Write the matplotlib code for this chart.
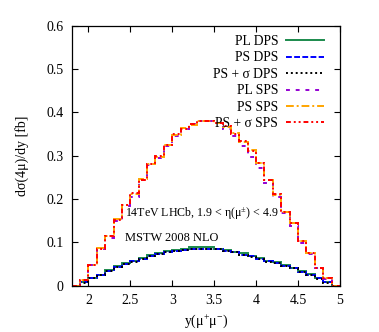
import matplotlib
matplotlib.use("Agg")
import matplotlib.pyplot as plt
import numpy as np

plt.rcParams['font.family'] = ['Liberation Serif', 'DejaVu Serif']
plt.rcParams['mathtext.fontset'] = 'custom'
plt.rcParams['mathtext.rm'] = 'Liberation Serif'
plt.rcParams['mathtext.default'] = 'regular'

# bin edges, 0.1 wide, 1.8 .. 5.0
edges = np.round(np.arange(1.8, 5.01, 0.1), 2)

# SPS histograms
ps_sps = [0.0, 0.014, 0.048, 0.087, 0.115, 0.153, 0.187, 0.212, 0.246, 0.282,
          0.298, 0.325, 0.348, 0.363, 0.371, 0.381, 0.380, 0.376, 0.367, 0.352,
          0.332, 0.313, 0.283, 0.245, 0.210, 0.171, 0.144, 0.104, 0.075, 0.042,
          0.018, 0.0]
pss_sps = [0.0, 0.013, 0.048, 0.086, 0.116, 0.152, 0.186, 0.213, 0.245, 0.281,
           0.299, 0.324, 0.349, 0.362, 0.372, 0.380, 0.381, 0.375, 0.368, 0.351,
           0.333, 0.312, 0.284, 0.244, 0.211, 0.170, 0.145, 0.103, 0.076, 0.041,
           0.019, 0.0]
pl_sps = [0.0, 0.014, 0.047, 0.086, 0.111, 0.150, 0.183, 0.205, 0.243, 0.279,
          0.295, 0.322, 0.346, 0.362, 0.372, 0.380, 0.381, 0.375, 0.362, 0.345,
          0.323, 0.296, 0.272, 0.236, 0.205, 0.168, 0.139, 0.098, 0.073, 0.041,
          0.015, 0.0]

# DPS histograms
ps_dps = [0.0, 0.008, 0.018, 0.025, 0.035, 0.044, 0.050, 0.057, 0.063, 0.069,
          0.074, 0.079, 0.081, 0.083, 0.084, 0.085, 0.085, 0.084, 0.081, 0.077,
          0.072, 0.068, 0.062, 0.057, 0.052, 0.046, 0.040, 0.033, 0.024, 0.017,
          0.008, 0.0]
pss_dps = [0.0, 0.007, 0.017, 0.025, 0.034, 0.044, 0.051, 0.056, 0.063, 0.068,
           0.074, 0.078, 0.081, 0.083, 0.085, 0.085, 0.084, 0.084, 0.081, 0.078,
           0.072, 0.067, 0.062, 0.056, 0.052, 0.045, 0.040, 0.032, 0.024, 0.016,
           0.007, 0.0]
pl_dps = [0.0, 0.009, 0.019, 0.026, 0.036, 0.046, 0.053, 0.058, 0.065, 0.070,
          0.076, 0.080, 0.082, 0.084, 0.089, 0.090, 0.090, 0.085, 0.082, 0.079,
          0.076, 0.069, 0.064, 0.058, 0.055, 0.047, 0.041, 0.035, 0.027, 0.019,
          0.009, 0.0]

fig = plt.figure(figsize=(3.79, 3.32), dpi=100)
ax = fig.add_axes([0.189, 0.139, 0.708, 0.784])

series = [
    (pl_dps, "PL DPS", "#1b8a4c", "-"),
    (ps_dps, "PS DPS", "#0000ff", (0, (3, 1.2))),
    (pss_dps, "PS + σ DPS", "#000000", (0, (1, 1.5))),
    (pl_sps, "PL SPS", "#9400d3", (0, (2, 3))),
    (ps_sps, "PS SPS", "#ffa500", (0, (4, 1.5, 1, 1.5))),
    (pss_sps, "PS + σ SPS", "#ff0000", (0, (2.5, 1.5, 1, 1.5, 1, 1.5))),
]
for vals, lab, col, ls in series:
    ax.stairs(vals, edges, baseline=None, color=col, linestyle=ls, lw=1.4, label=lab)

ax.set_xlim(1.8, 5)
ax.set_ylim(0, 0.6)
ax.set_xticks([2, 2.5, 3, 3.5, 4, 4.5, 5])
ax.set_xticklabels(["2", "2.5", "3", "3.5", "4", "4.5", "5"])
ax.set_yticks([0, 0.1, 0.2, 0.3, 0.4, 0.5, 0.6])
ax.set_yticklabels(["0", "0.1", "0.2", "0.3", "0.4", "0.5", "0.6"])
ax.tick_params(direction="in", top=True, right=True, length=4, width=0.8,
               labelsize=10, pad=6)
for s in ax.spines.values():
    s.set_linewidth(0.9)

ax.set_xlabel("y(μ$^{+}$μ$^{-}$)", fontsize=10, labelpad=4)
ax.set_ylabel("dσ(4μ)/dy [fb]", fontsize=10, labelpad=12)

ax.text(2.44, 0.166, "14TeV LHCb, 1.9 < η(μ$^{\\pm}$) < 4.9", fontsize=8.6, va="center")
ax.text(2.44, 0.110, "MSTW 2008 NLO", fontsize=8.9, va="center")

leg = ax.legend(loc="upper right", frameon=False, markerfirst=False, fontsize=9.8,
                handlelength=2.8, handletextpad=0.55, labelspacing=0.25,
                borderaxespad=0.3, bbox_to_anchor=(0.975, 1.0))

fig.savefig("out.png", dpi=100)
